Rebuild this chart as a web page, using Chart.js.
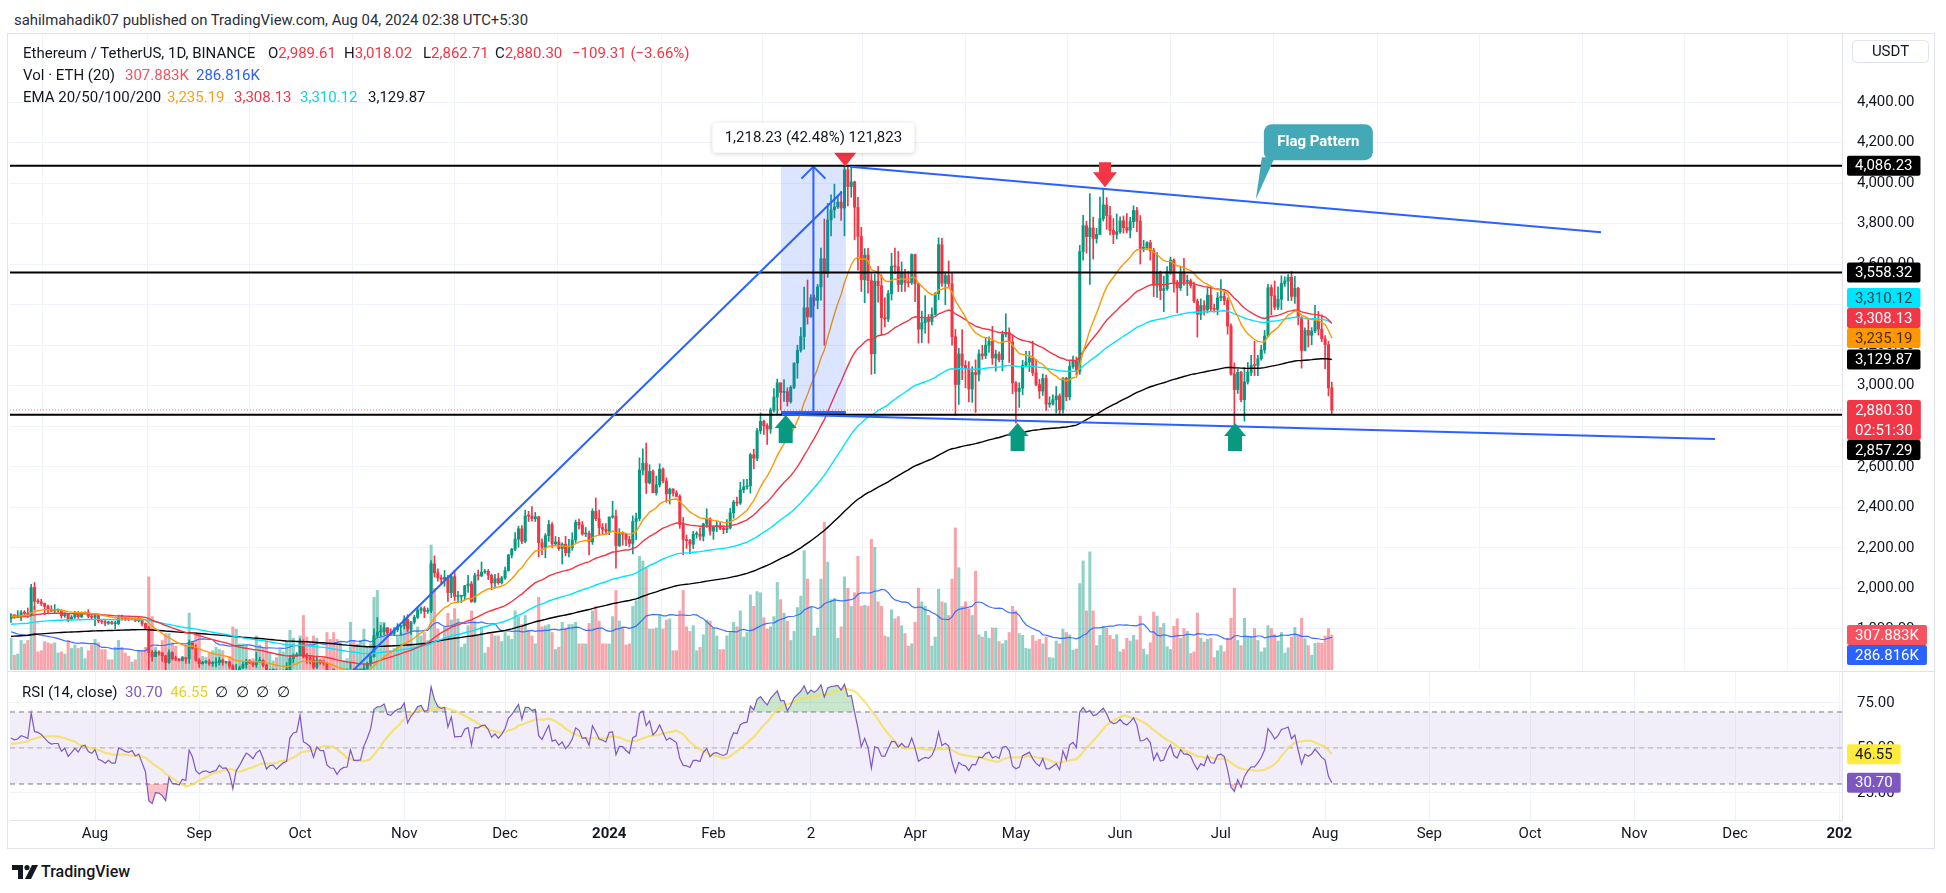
<!DOCTYPE html>
<html>
<head>
<meta charset="utf-8">
<title>ETH/USDT 1D</title>
<script src="https://cdn.jsdelivr.net/npm/chart.js@4.4.1/dist/chart.umd.min.js"></script>
<style>
  body { margin: 0; width: 1946px; height: 893px; overflow: hidden; background: #fff; position: relative;
         font-family: Roboto, "Noto Sans", sans-serif; color: #131722; }
  .t { position: absolute; white-space: nowrap; font-size: 15px; line-height: 18px; transform-origin: 0 50%; }
  canvas { position: absolute; }
</style>
</head>
<body>
<div style="position:absolute;left:7px;top:33px;width:1928px;height:816px;border:1px solid #E0E3EB;box-sizing:border-box"></div>
<div style="position:absolute;left:8px;top:671px;width:1926px;height:1px;background:#E0E3EB"></div>
<canvas id="main" width="1925" height="636" style="left:10px;top:34px"></canvas>
<canvas id="rsi" width="1925" height="176" style="left:10px;top:672px"></canvas>
<svg style="position:absolute;left:12px;top:865px" width="26" height="14" viewBox="0 0 26 14">
  <path d="M0 0h11v14h-5v-9h-6z" fill="#131722"/>
  <circle cx="15" cy="2.6" r="2.6" fill="#131722"/>
  <path d="M20 0h6l-7 14h-6z" fill="#131722"/>
</svg>
<div class="t" style="left:41px;top:863px;font-size:16px;font-weight:500">TradingView</div>
<script>
// daily candles, first one is 7 Jul 2023 (day 0); open = previous close
const firstOpen = 1850;
const closes = [
  1869,1862,1866,1880,1877,1871,2004,1936,1933,1925,1911,1897,1889,1891,1891,1865,1875,1847,1858,1871,1860,1877,1880,1862,1857,
  1866,1839,1835,1828,1834,1826,1826,1856,1853,1849,1847,1850,1840,1843,1826,1806,1684,1663,1684,1681,1667,1634,1683,1653,1651,1645,1657,1652,1730,1705,1645,
  1628,1635,1637,1629,1632,1634,1646,1635,1636,1617,1552,1593,1607,1624,1641,1634,1623,1638,1645,1622,1585,1593,1594,1581,1588,1594,1597,1653,1668,1671,
  1733,1663,1656,1647,1611,1645,1633,1632,1579,1566,1565,1539,1551,1556,1557,1601,1566,1566,1567,1604,1629,1663,1767,1785,1787,1805,1779,1776,1796,1810,1815,
  1847,1799,1833,1857,1893,1900,1886,1890,2121,2077,2052,2045,2054,1979,2058,1960,1961,1962,2012,2022,1935,2063,2062,2080,2084,2064,2027,2048,2028,2051,
  2088,2165,2193,2243,2294,2232,2358,2357,2344,2353,2225,2203,2260,2315,2220,2229,2196,2218,2176,2201,2239,2326,2313,2268,2272,2230,2380,2344,2300,2292,2282,
  2352,2356,2210,2269,2268,2241,2222,2330,2345,2584,2617,2521,2577,2472,2511,2588,2530,2467,2490,2471,2454,2314,2241,2236,2218,2267,2267,2257,2317,2343,2283,
  2304,2309,2296,2290,2298,2373,2426,2421,2486,2501,2506,2659,2642,2778,2824,2803,2786,2880,2944,3014,2967,2971,2922,2992,3112,3175,3243,3385,3340,
  3434,3421,3488,3627,3553,3818,3868,3883,3906,3877,4066,3983,4006,3881,3737,3523,3645,3519,3158,3516,3494,3336,3329,3455,3590,3587,3500,3561,3509,3508,3647,
  3504,3279,3311,3331,3317,3352,3454,3696,3506,3544,3503,3242,3006,3157,3100,3084,2984,3065,3056,3157,3148,3200,3219,3137,3156,3129,3254,3262,3216,3014,
  2972,2988,3101,3117,3137,3064,3006,2974,3036,2909,2912,2931,2950,2881,3038,2945,3095,3122,3071,3662,3790,3736,3779,3727,3747,3825,3892,3840,3767,3747,3760,
  3814,3780,3767,3810,3865,3812,3678,3681,3706,3667,3498,3561,3470,3479,3565,3620,3511,3483,3561,3515,3518,3495,3418,3353,3396,3374,3447,3380,3377,3434,
  3441,3421,3295,3058,2981,3066,2931,3019,3066,3101,3100,3133,3177,3245,3484,3444,3388,3427,3505,3517,3536,3441,3481,3337,3174,3273,3249,3270,3320,3279,3232,
  3203,2989.61,2880.30
];
const highs = [
  1876,1870,1890,1890,1890,1903,2020,2029,1947,1946,1928,1918,1915,1920,1899,1896,1880,1876,1866,1886,1886,1884,1884,1895,1875,
  1875,1871,1844,1846,1838,1838,1838,1868,1868,1859,1852,1853,1855,1860,1846,1830,1812,1693,1692,1692,1685,1670,1696,1687,1666,1653,1662,1660,1745,1730,1721,
  1654,1640,1645,1649,1639,1657,1660,1651,1640,1640,1623,1625,1616,1637,1650,1647,1638,1684,1660,1648,1625,1601,1600,1600,1596,1598,1633,1669,1676,1683,
  1752,1746,1678,1665,1662,1658,1646,1646,1634,1597,1576,1567,1566,1558,1568,1633,1603,1586,1581,1624,1636,1670,1800,1855,1817,1826,1808,1800,1806,1826,1818,
  1865,1870,1837,1867,1910,1909,1910,1903,2137,2160,2096,2066,2088,2064,2066,2089,1985,1965,2015,2064,2034,2075,2090,2130,2093,2093,2070,2069,2074,2060,
  2105,2167,2197,2275,2307,2310,2386,2380,2403,2375,2355,2245,2270,2335,2325,2256,2252,2225,2257,2242,2275,2337,2342,2330,2300,2283,2393,2446,2386,2320,2320,
  2352,2430,2386,2295,2280,2270,2257,2358,2371,2644,2689,2717,2610,2585,2554,2615,2595,2546,2495,2492,2482,2462,2350,2263,2242,2282,2280,2299,2322,2393,2348,
  2309,2330,2324,2310,2340,2395,2434,2450,2524,2537,2538,2666,2687,2790,2866,2830,2813,2890,2986,3033,3015,3030,2990,3000,3113,3200,3287,3487,3522,
  3450,3448,3500,3680,3823,3900,3942,3995,3936,3960,4086,4086,4083,4010,3930,3782,3677,3678,3552,3550,3589,3548,3434,3470,3654,3679,3663,3611,3574,3565,3651,
  3650,3505,3368,3445,3352,3385,3460,3730,3728,3562,3616,3553,3278,3185,3277,3124,3119,3094,3128,3177,3200,3238,3241,3293,3176,3167,3270,3355,3286,3250,
  3020,3015,3126,3170,3170,3220,3130,3032,3058,3053,2945,2955,2996,2960,3040,3042,3120,3146,3142,3693,3841,3812,3948,3832,3777,3931,3975,3929,3885,3825,3848,
  3834,3838,3850,3831,3888,3880,3840,3718,3712,3718,3678,3657,3566,3541,3588,3635,3626,3520,3590,3629,3546,3527,3510,3428,3429,3420,3482,3492,3403,3460,
  3524,3464,3434,3305,3113,3083,3071,3090,3115,3150,3220,3150,3200,3273,3500,3498,3517,3488,3542,3538,3548,3564,3540,3486,3341,3286,3327,3287,3397,3367,3350,
  3248,3220,3018.02
];
const lows = [
  1832,1852,1855,1840,1862,1856,1863,1895,1926,1915,1870,1876,1884,1876,1882,1853,1857,1836,1845,1852,1852,1855,1874,1854,1850,
  1816,1830,1825,1816,1822,1822,1800,1821,1843,1840,1840,1845,1836,1834,1814,1801,1550,1641,1663,1670,1640,1550,1630,1646,1643,1640,1641,1630,1630,1700,1640,
  1610,1626,1629,1620,1615,1612,1622,1620,1630,1605,1531,1547,1585,1604,1606,1628,1614,1610,1634,1612,1573,1581,1587,1570,1563,1578,1590,1586,1632,1664,
  1671,1656,1631,1627,1602,1603,1626,1620,1557,1555,1521,1530,1535,1543,1547,1552,1557,1551,1550,1560,1596,1616,1660,1760,1765,1771,1768,1767,1770,1785,1770,
  1800,1786,1772,1824,1851,1876,1855,1876,1880,2056,2036,2020,2010,1935,1954,1940,1928,1930,1945,1980,1930,1930,2040,2057,2074,2043,1993,2001,2020,2021,
  2044,2085,2150,2186,2203,2220,2225,2330,2332,2330,2155,2166,2150,2232,2202,2210,2188,2120,2160,2155,2188,2226,2292,2262,2255,2165,2217,2334,2264,2268,2265,
  2265,2346,2100,2207,2213,2211,2205,2170,2240,2333,2560,2468,2515,2472,2460,2500,2520,2425,2416,2455,2452,2296,2166,2197,2171,2196,2248,2238,2234,2301,2262,
  2242,2280,2289,2270,2275,2293,2346,2407,2414,2472,2489,2470,2590,2630,2764,2760,2710,2765,2870,2860,2880,2923,2900,2914,2986,3037,3166,3181,3304,
  3338,3394,3380,3422,3200,3535,3740,3828,3875,3816,3740,3888,3930,3720,3570,3465,3410,3457,3056,3060,3412,3250,3291,3316,3423,3552,3465,3465,3465,3487,3500,
  3415,3210,3213,3260,3210,3300,3348,3425,3490,3400,3485,3200,2852,2908,3030,2990,2920,2918,2868,3024,3130,3134,3164,3105,3072,3118,3074,3241,3115,2960,
  2815,2893,2955,3094,3070,3050,3000,2937,2952,2878,2894,2904,2865,2862,2864,2926,2930,3086,3052,3056,3620,3655,3500,3625,3704,3744,3813,3772,3744,3701,3724,
  3752,3753,3755,3730,3780,3760,3601,3661,3670,3620,3440,3436,3425,3366,3472,3550,3462,3360,3470,3495,3445,3482,3410,3240,3326,3350,3360,3370,3363,3350,
  3420,3400,3255,3052,2810,2962,2920,2825,3008,3050,3050,3050,3126,3160,3240,3350,3375,3376,3376,3490,3420,3420,3406,3300,3087,3172,3191,3202,3262,3250,3218,
  3083,2950,2862.71
];
// volume in thousands of ETH
const volumes = [
  280,130,140,260,230,260,520,560,160,170,250,240,230,240,150,160,140,260,190,220,190,200,100,170,220,
  270,240,180,180,90,90,200,260,200,150,120,70,90,170,170,200,820,470,200,150,260,320,320,240,210,90,120,220,500,250,330,
  320,120,110,150,170,200,180,170,60,120,380,360,230,230,220,90,100,300,220,200,260,150,80,110,180,160,250,350,280,140,
  300,480,290,240,300,280,100,120,330,270,330,270,240,80,100,420,260,230,260,360,200,230,640,700,420,420,300,170,190,300,330,
  430,440,360,210,380,300,330,260,1100,720,360,260,380,500,440,540,450,200,230,390,520,430,300,380,150,200,320,300,300,250,
  330,300,270,520,470,400,480,350,300,230,640,380,390,400,330,180,200,420,370,400,400,420,230,230,230,410,520,560,430,230,230,
  230,470,700,430,380,220,230,560,610,1000,960,900,360,360,370,490,360,440,450,170,170,520,700,380,340,390,170,200,310,440,430,
  370,300,180,180,300,340,420,380,520,290,330,660,560,690,680,460,360,380,470,770,620,500,430,260,340,550,650,1050,800,
  560,300,370,800,1300,950,620,630,280,380,820,720,560,680,1000,560,570,560,1150,1080,600,560,300,290,530,450,470,390,320,210,230,
  420,720,600,560,480,210,290,710,600,590,480,800,1250,900,560,600,540,480,870,310,290,340,280,370,370,250,230,260,330,560,
  520,320,305,190,185,305,255,270,230,290,110,105,255,230,360,330,310,175,185,760,960,520,1040,520,215,305,385,370,305,270,310,
  160,180,280,255,305,265,475,185,135,240,510,475,375,410,205,180,385,450,280,365,340,145,160,500,280,245,270,280,110,170,
  215,160,280,455,720,260,215,455,290,290,365,260,160,195,390,365,310,255,330,150,195,290,375,310,455,275,215,130,235,240,235,
  300,365,307.883
];

// x axis: first day of each month, as day index
const monthDays = [25, 56, 86, 117, 147, 178, 209, 238, 269, 299, 330, 360, 391, 422, 452, 483, 513, 544];
const monthLabels = ['Aug', 'Sep', 'Oct', 'Nov', 'Dec', '2024', 'Feb', '2', 'Apr', 'May', 'Jun', 'Jul', 'Aug', 'Sep', 'Oct', 'Nov', 'Dec', '202'];
const yearLabels = ['2024', '202'];
const priceTicks = [1800, 2000, 2200, 2400, 2600, 2800, 3000, 3200, 3400, 3600, 3800, 4000, 4200, 4400];
const rsiTicks = [25, 50, 75];

// indicator settings and values read before the first candle
const emaLens = [20, 50, 100, 200];
const emaSeeds = [1862, 1858, 1822, 1762];
const volMaPrior = 340;
const rsiSeed = [16, 14];
const rsiMaPrior = 52;

// last values as printed on the chart
const lastPrice = 2880.30;
const emaLast = [3235.19, 3308.13, 3310.12, 3129.87];
const volLast = [307.883, 286.816];
const rsiLast = [30.70, 46.55];

// drawings: [day, price]
const levels = [4086.23, 3558.32, 2857.29];
const flagTop = [[249.6, 4081], [473.1, 3758]];
const flagBottom = [[229.4, 2858], [507, 2737]];
const rally = [[101.9, 1597], [247.2, 3956]];
const measureDays = [229.1, 248.4];
const measurePrices = [2868.00, 4086.23];
const upArrows = [[230.5, 2855], [299.5, 2816], [364.2, 2816]];
const downArrows = [[248.2, 4082], [325.5, 3980]];
const calloutTip = [370.4, 3921];

const xMin = -0.3, xMax = 544.8;
const UP = '#089981', DOWN = '#F23645';

// ---- derived series ----
const days = closes.map((_, i) => i);
const opens = closes.map((c, i) => i === 0 ? firstOpen : closes[i - 1]);
const isUp = days.map(i => closes[i] >= opens[i]);

function ema(len, seed) {
  const k = 2 / (len + 1);
  let e = seed;
  return closes.map(c => (e = c * k + e * (1 - k)));
}
function sma(vals, len, prior) {
  return vals.map((v, i) => {
    let s = 0;
    for (let j = i - len + 1; j <= i; j++) s += j < 0 ? prior : vals[j];
    return s / len;
  });
}
function rsi(len) {
  let g = rsiSeed[0], l = rsiSeed[1], prev = firstOpen;
  return closes.map(c => {
    const ch = c - prev; prev = c;
    g = (g * (len - 1) + Math.max(ch, 0)) / len;
    l = (l * (len - 1) + Math.max(-ch, 0)) / len;
    return 100 - 100 / (1 + g / l);
  });
}
const emas = emaLens.map((n, k) => ema(n, emaSeeds[k]));
const volMa = sma(volumes, 20, volMaPrior);
const rsiVals = rsi(14);
const rsiMa = sma(rsiVals, 14, rsiMaPrior);
const pts = arr => arr.map((y, i) => ({ x: i, y }));

const fmt = v => v.toLocaleString('en-US', { minimumFractionDigits: 2, maximumFractionDigits: 2 });

Chart.defaults.font.family = 'Roboto, "Noto Sans", sans-serif';
Chart.defaults.color = '#131722';

const monthAxis = {
  type: 'linear', min: xMin, max: xMax, offset: false,
  afterBuildTicks: a => { a.ticks = monthDays.map(v => ({ value: v })); }
};
// price scale: fixed width, no extra vertical padding from its labels
const sideFit = s => { s.width = 93; s.paddingTop = 0; s.paddingBottom = 0; };

function tag(ctx, x, cy, lines, bg, fg) {
  ctx.font = '15px Roboto';
  const w = Math.max(...lines.map(t => ctx.measureText(t).width)) + 16;
  ctx.fillStyle = bg;
  ctx.beginPath(); ctx.roundRect(x, cy - 10, w, 20 * lines.length, 2); ctx.fill();
  ctx.fillStyle = fg; ctx.textAlign = 'center'; ctx.textBaseline = 'middle';
  lines.forEach((t, i) => ctx.fillText(t, x + w / 2, cy + i * 20 + 1));
}

const drawings = {
  id: 'drawings',
  afterDatasetsDraw(chart) {
    const { ctx, chartArea: a, scales: { x, y } } = chart;
    const X = d => x.getPixelForValue(d), Y = p => y.getPixelForValue(p);
    const seg = (x1, y1, x2, y2) => { ctx.beginPath(); ctx.moveTo(x1, y1); ctx.lineTo(x2, y2); ctx.stroke(); };
    ctx.save();
    ctx.beginPath(); ctx.rect(a.left, a.top, a.right - a.left, a.bottom - a.top); ctx.clip();

    // price range tool
    const mx1 = X(measureDays[0]), mx2 = X(measureDays[1]), mxm = (mx1 + mx2) / 2;
    const myB = Y(measurePrices[0]), myT = Y(measurePrices[1]);
    ctx.fillStyle = 'rgba(41,98,255,0.17)';
    ctx.fillRect(mx1, myT, mx2 - mx1, myB - myT);
    ctx.strokeStyle = '#2962FF';
    ctx.lineWidth = 3; seg(mx1, myB, mx2, myB);
    ctx.lineWidth = 2; seg(mxm, myB, mxm, myT + 1);
    ctx.beginPath(); ctx.moveTo(mxm - 12, myT + 13); ctx.lineTo(mxm, myT + 1); ctx.lineTo(mxm + 12, myT + 13); ctx.stroke();

    // last price line
    ctx.setLineDash([1, 2]); ctx.strokeStyle = 'rgba(242,54,69,0.7)'; ctx.lineWidth = 1;
    seg(a.left, Y(lastPrice), a.right, Y(lastPrice));
    ctx.setLineDash([]);

    // horizontal levels
    ctx.strokeStyle = '#000'; ctx.lineWidth = 2;
    levels.forEach(p => seg(a.left, Y(p), a.right, Y(p)));

    // trend lines
    ctx.strokeStyle = '#2962FF'; ctx.lineWidth = 2;
    [flagTop, flagBottom, rally].forEach(([p, q]) => seg(X(p[0]), Y(p[1]), X(q[0]), Y(q[1])));

    // arrows
    ctx.fillStyle = UP;
    upArrows.forEach(([d, p]) => {
      const ax = X(d), ay = Y(p);
      ctx.beginPath();
      ctx.moveTo(ax, ay); ctx.lineTo(ax + 11, ay + 13); ctx.lineTo(ax + 7, ay + 13); ctx.lineTo(ax + 7, ay + 28);
      ctx.lineTo(ax - 7, ay + 28); ctx.lineTo(ax - 7, ay + 13); ctx.lineTo(ax - 11, ay + 13); ctx.closePath(); ctx.fill();
    });
    ctx.fillStyle = DOWN;
    downArrows.forEach(([d, p]) => {
      const ax = X(d), ay = Y(p);
      ctx.beginPath();
      ctx.moveTo(ax, ay); ctx.lineTo(ax + 12, ay - 15); ctx.lineTo(ax + 6, ay - 15); ctx.lineTo(ax + 6, ay - 25);
      ctx.lineTo(ax - 6, ay - 25); ctx.lineTo(ax - 6, ay - 15); ctx.lineTo(ax - 12, ay - 15); ctx.closePath(); ctx.fill();
    });

    // price range label
    ctx.shadowColor = 'rgba(0,0,0,0.18)'; ctx.shadowBlur = 5; ctx.shadowOffsetY = 1;
    ctx.fillStyle = '#fff';
    ctx.beginPath(); ctx.roundRect(mxm - 101, myT - 43, 202, 30, 4); ctx.fill();
    ctx.shadowColor = 'transparent';
    ctx.fillStyle = '#131722'; ctx.font = '15px Roboto'; ctx.textAlign = 'center'; ctx.textBaseline = 'middle';
    ctx.fillText('1,218.23 (42.48%) 121,823', mxm, myT - 27);

    // callout
    const tx = X(calloutTip[0]), ty = Y(calloutTip[1]);
    ctx.fillStyle = '#44A9B6';
    ctx.beginPath(); ctx.moveTo(tx + 6, ty - 42); ctx.lineTo(tx + 19, ty - 42); ctx.lineTo(tx, ty); ctx.closePath(); ctx.fill();
    ctx.beginPath(); ctx.roundRect(tx + 8, ty - 75, 109, 36, 8); ctx.fill();
    ctx.fillStyle = '#fff'; ctx.font = 'bold 15px Roboto';
    ctx.fillText('Flag Pattern', tx + 62.5, ty - 57);
    ctx.restore();
  },
  afterDraw(chart) {
    const { ctx, chartArea: a, scales: { y, vol } } = chart;
    const left = a.right + 5;
    ctx.save();
    // currency box
    ctx.fillStyle = '#fff'; ctx.strokeStyle = '#E0E3EB'; ctx.lineWidth = 1;
    ctx.beginPath(); ctx.roundRect(a.right + 10.5, 6.5, 76, 22, 4); ctx.fill(); ctx.stroke();
    ctx.fillStyle = '#131722'; ctx.font = '15px Roboto'; ctx.textAlign = 'center'; ctx.textBaseline = 'middle';
    ctx.fillText('USDT', a.right + 48.5, 18);

    const curY = y.getPixelForValue(lastPrice);
    const tags = [
      { v: levels[0], bg: '#000', fg: '#fff' },
      { v: levels[1], bg: '#000', fg: '#fff' },
      { v: emaLast[2], bg: '#00E5FF', fg: 'rgba(0,0,0,0.72)' },
      { v: emaLast[1], bg: '#F23645', fg: '#fff' },
      { v: emaLast[0], bg: '#FF9800', fg: 'rgba(0,0,0,0.72)' },
      { v: emaLast[3], bg: '#000', fg: '#fff' },
      { v: levels[2], bg: '#000', fg: '#fff' }
    ];
    let limit = curY - 10;
    tags.filter(t => t.v > lastPrice).sort((p, q) => p.v - q.v).forEach(t => {
      const cy = Math.min(y.getPixelForValue(t.v), limit - 10);
      tag(ctx, left, cy, [fmt(t.v)], t.bg, t.fg);
      limit = cy - 10;
    });
    limit = curY + 30;
    tags.filter(t => t.v < lastPrice).sort((p, q) => q.v - p.v).forEach(t => {
      const cy = Math.max(y.getPixelForValue(t.v), limit + 10);
      tag(ctx, left, cy, [fmt(t.v)], t.bg, t.fg);
      limit = cy + 10;
    });
    tag(ctx, left, curY, [fmt(lastPrice), '02:51:30'], '#F23645', '#fff');

    const v1 = vol.getPixelForValue(volLast[0]);
    const v2 = Math.max(vol.getPixelForValue(volLast[1]), v1 + 20);
    tag(ctx, left, v1, [volLast[0].toFixed(3) + 'K'], '#F7525F', '#fff');
    tag(ctx, left, v2, [volLast[1].toFixed(3) + 'K'], '#2962FF', '#fff');
    ctx.restore();
  }
};

const emaColors = ['#FF9800', '#F23645', '#00E5FF', '#000000'];

new Chart(document.getElementById('main'), {
  type: 'bar',
  data: {
    datasets: [
      ...emas.map((e, k) => ({
        type: 'line', data: pts(e), borderColor: emaColors[k], borderWidth: 1.4,
        pointRadius: 0, yAxisID: 'y', order: 0
      })),
      { data: days.map(i => ({ x: i, y: [Math.min(opens[i], closes[i]), Math.max(opens[i], closes[i])] })),
        backgroundColor: days.map(i => isUp[i] ? UP : DOWN), barThickness: 2.4, minBarLength: 1,
        grouped: false, yAxisID: 'y', order: 1 },
      { data: days.map(i => ({ x: i, y: [lows[i], highs[i]] })),
        backgroundColor: days.map(i => isUp[i] ? UP : DOWN), barThickness: 1,
        grouped: false, yAxisID: 'y', order: 2 },
      { type: 'line', data: pts(volMa), borderColor: 'rgba(41,98,255,0.9)', borderWidth: 1.2,
        pointRadius: 0, yAxisID: 'vol', order: 3 },
      { data: pts(volumes), backgroundColor: days.map(i => isUp[i] ? 'rgba(8,153,129,0.45)' : 'rgba(242,54,69,0.45)'),
        barThickness: 2.4, grouped: false, yAxisID: 'vol', order: 4 }
    ]
  },
  options: {
    responsive: false, animation: false, devicePixelRatio: 1,
    layout: { padding: 0, autoPadding: false },
    plugins: { legend: { display: false }, tooltip: { enabled: false } },
    scales: {
      x: { ...monthAxis, grid: { color: '#F0F3FA', drawTicks: false }, border: { display: false },
           ticks: { display: false }, afterFit: s => { s.height = 0; } },
      y: { position: 'right', min: 1597, max: 4736,
           grid: { color: '#F0F3FA', drawTicks: false }, border: { color: '#E0E3EB' },
           ticks: { padding: 15, font: { size: 15 }, callback: v => fmt(v) },
           afterBuildTicks: a => { a.ticks = priceTicks.map(v => ({ value: v })); },
           afterFit: sideFit },
      vol: { display: false, position: 'left', min: 0, max: 5597 }
    }
  },
  plugins: [drawings]
});

const rsiTags = {
  id: 'rsiTags',
  afterDraw(chart) {
    const { ctx, chartArea: a, scales: { y } } = chart;
    ctx.save();
    tag(ctx, a.right + 5, y.getPixelForValue(rsiLast[1]), [rsiLast[1].toFixed(2)], '#FFEB3B', '#131722');
    tag(ctx, a.right + 5, y.getPixelForValue(rsiLast[0]), [rsiLast[0].toFixed(2)], '#7E57C2', '#fff');
    ctx.restore();
  }
};
const band = v => [{ x: xMin, y: v }, { x: xMax, y: v }];

new Chart(document.getElementById('rsi'), {
  type: 'line',
  data: {
    datasets: [
      { data: band(70), borderColor: '#787B86', borderDash: [5, 4], borderWidth: 1, pointRadius: 0,
        fill: '+1', backgroundColor: 'rgba(126,87,194,0.1)', order: 5 },
      { data: band(30), borderColor: '#787B86', borderDash: [5, 4], borderWidth: 1, pointRadius: 0, fill: false, order: 5 },
      { data: band(50), borderColor: 'rgba(120,123,134,0.55)', borderDash: [5, 4], borderWidth: 1, pointRadius: 0, fill: false, order: 5 },
      { data: pts(rsiVals), borderColor: 'transparent', borderWidth: 0, pointRadius: 0, order: 4,
        fill: { target: { value: 70 }, above: 'rgba(76,175,80,0.3)', below: 'rgba(0,0,0,0)' } },
      { data: pts(rsiVals), borderColor: 'transparent', borderWidth: 0, pointRadius: 0, order: 4,
        fill: { target: { value: 30 }, above: 'rgba(0,0,0,0)', below: 'rgba(242,54,69,0.3)' } },
      { data: pts(rsiMa), borderColor: 'rgba(246,222,90,0.8)', borderWidth: 2.2, pointRadius: 0, fill: false, order: 2 },
      { data: pts(rsiVals), borderColor: '#7E57C2', borderWidth: 1.2, pointRadius: 0, fill: false, order: 1 }
    ]
  },
  options: {
    responsive: false, animation: false, devicePixelRatio: 1,
    layout: { padding: 0, autoPadding: false },
    plugins: { legend: { display: false }, tooltip: { enabled: false } },
    scales: {
      x: { ...monthAxis, grid: { color: '#F0F3FA', drawTicks: false }, border: { color: '#E0E3EB' },
           ticks: { autoSkip: false, maxRotation: 0, padding: 5,
                    font: c => ({ size: 15, weight: yearLabels.includes(monthLabels[monthDays.indexOf(c.tick ? c.tick.value : -1)]) ? 'bold' : 'normal' }),
                    callback: v => monthLabels[monthDays.indexOf(v)] ?? '' },
           afterFit: s => { s.height = 28; s.paddingLeft = 0; s.paddingRight = 0; } },
      y: { position: 'right', min: 10, max: 92.2,
           grid: { color: '#F0F3FA', drawTicks: false }, border: { color: '#E0E3EB' },
           ticks: { padding: 15, font: { size: 15 }, callback: v => v.toFixed(2) },
           afterBuildTicks: a => { a.ticks = rsiTicks.map(v => ({ value: v })); },
           afterFit: sideFit }
    }
  },
  plugins: [rsiTags]
});

// ---- text ----
function text(html, left, cy, extra = '') {
  const el = document.createElement('div');
  el.className = 't';
  el.innerHTML = html;
  el.style.cssText += `left:${left}px;top:${cy - 9}px;${extra}`;
  document.body.appendChild(el);
  return el;
}
const c = (col, s) => `<span style="color:${col}">${s}</span>`;
const hdr = text('sahilmahadik07 published on TradingView.com, Aug 04, 2024 02:38 UTC+5:30', 14, 20, 'color:#2a2e39');
hdr.style.transform = `scaleX(${514 / hdr.getBoundingClientRect().width})`;

text('Ethereum / TetherUS, 1D, BINANCE', 23, 53);
text('O' + c(DOWN, '2,989.61'), 268, 53);
text('H' + c(DOWN, '3,018.02'), 344, 53);
text('L' + c(DOWN, '2,862.71'), 423, 53);
text('C' + c(DOWN, '2,880.30'), 495, 53);
text(c(DOWN, '−109.31 (−3.66%)'), 572, 53);

text('Vol · ETH (20)', 23, 75);
text(c('#F7525F', volLast[0].toFixed(3) + 'K'), 125, 75);
text(c('#2962FF', volLast[1].toFixed(3) + 'K'), 196, 75);

text('EMA 20/50/100/200', 23, 97);
const emaTextColors = ['#F5A020', '#F23645', '#14D2E0', '#131722'];
[167, 234, 300, 368].forEach((x, k) => text(c(emaTextColors[k], fmt(emaLast[k])), x, 97));

text('RSI (14, close)&nbsp;&nbsp;' + c('#7E57C2', rsiLast[0].toFixed(2)) + '&nbsp;&nbsp;' +
     c('#E8CF2A', rsiLast[1].toFixed(2)) + '&nbsp;&nbsp;∅&nbsp;&nbsp;∅&nbsp;&nbsp;∅&nbsp;&nbsp;∅', 22, 692);
</script>
</body>
</html>
